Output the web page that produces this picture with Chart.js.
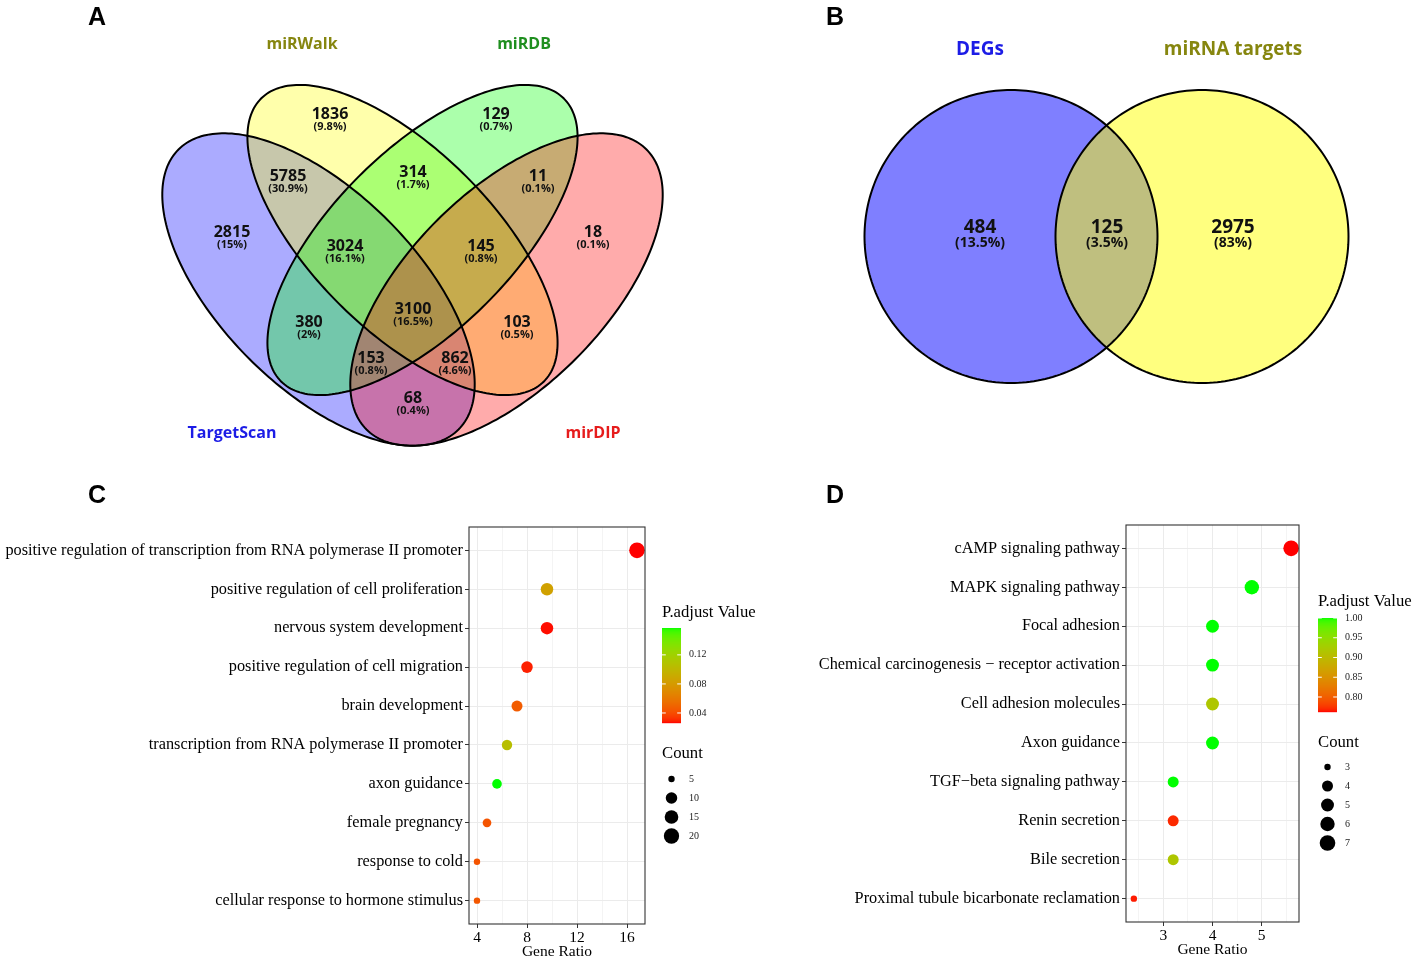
<!DOCTYPE html>
<html>
<head>
<meta charset="utf-8">
<script src="https://cdn.jsdelivr.net/npm/chart.js@4.4.1/dist/chart.umd.min.js"></script>
<style>
  html, body { margin: 0; padding: 0; background: #fff; }
  #wrap { position: relative; width: 1417px; height: 964px; overflow: hidden; }
  canvas { position: absolute; }
  .tag { position: absolute; font: bold 25px "Liberation Sans", Arial, sans-serif; line-height: 25px; color: #000; }
</style>
</head>
<body>
<div id="wrap">
  <canvas id="vennA" width="708" height="470" style="left:0;top:0"></canvas>
  <canvas id="vennB" width="709" height="470" style="left:708px;top:0"></canvas>
  <canvas id="keggDot" width="709" height="494" style="left:708px;top:470px"></canvas>
  <canvas id="goDot" width="790" height="494" style="left:0;top:470px"></canvas>
  <div class="tag" style="left:88px;top:4px">A</div>
  <div class="tag" style="left:826px;top:4px">B</div>
  <div class="tag" style="left:88px;top:482px">C</div>
  <div class="tag" style="left:826px;top:482px">D</div>
</div>
<script>
// ---- data ----
const vennASets = ['TargetScan', 'miRWalk', 'miRDB', 'mirDIP'];
const vennACounts = [1836, 129, 5785, 314, 11, 2815, 3024, 145, 18, 380, 3100, 103, 153, 862, 68];
const vennAPercents = ['9.8%', '0.7%', '30.9%', '1.7%', '0.1%', '15%', '16.1%', '0.8%', '0.1%', '2%', '16.5%', '0.5%', '0.8%', '4.6%', '0.4%'];

const vennBSets = ['DEGs', 'miRNA targets'];
const vennBCounts = [484, 125, 2975];
const vennBPercents = ['13.5%', '3.5%', '83%'];

const goTerms = [
  'positive regulation of transcription from RNA polymerase II promoter',
  'positive regulation of cell proliferation',
  'nervous system development',
  'positive regulation of cell migration',
  'brain development',
  'transcription from RNA polymerase II promoter',
  'axon guidance',
  'female pregnancy',
  'response to cold',
  'cellular response to hormone stimulus'
];
const goRatio = [16.8, 9.6, 9.6, 8.0, 7.2, 6.4, 5.6, 4.8, 4.0, 4.0];
const goCount = [21, 12, 12, 10, 9, 8, 7, 6, 5, 5];
const goPadj = [0.0262, 0.085, 0.027, 0.029, 0.046, 0.105, 0.157, 0.043, 0.043, 0.044];
const goXMajor = [4, 8, 12, 16];
const goXMinor = [6, 10, 14];
const goBarTicks = [0.04, 0.08, 0.12];
const goSizeBreaks = [5, 10, 15, 20];

const keggTerms = [
  'cAMP signaling pathway',
  'MAPK signaling pathway',
  'Focal adhesion',
  'Chemical carcinogenesis \u2212 receptor activation',
  'Cell adhesion molecules',
  'Axon guidance',
  'TGF\u2212beta signaling pathway',
  'Renin secretion',
  'Bile secretion',
  'Proximal tubule bicarbonate reclamation'
];
const keggRatio = [5.6, 4.8, 4.0, 4.0, 4.0, 4.0, 3.2, 3.2, 3.2, 2.4];
const keggCount = [7, 6, 5, 5, 5, 5, 4, 4, 4, 3];
const keggPadj = [0.762, 1.0, 1.0, 1.0, 0.917, 1.0, 1.0, 0.770, 0.917, 0.766];
const keggXMajor = [3, 4, 5];
const keggXMinor = [2.5, 3.5, 4.5, 5.5];
const keggBarTicks = [0.80, 0.85, 0.90, 0.95, 1.00];
const keggSizeBreaks = [3, 4, 5, 6, 7];

// ---- layout (page pixels) ----
const vennAShapes = [
  { cx: 318.5, cy: 289.5, rx: 198, ry: 98, angle: 45, fill: 'rgba(0,0,255,0.33)' },
  { cx: 402.5, cy: 240, rx: 200, ry: 90, angle: 45, fill: 'rgba(255,255,0,0.33)' },
  { cx: 422.5, cy: 240, rx: 200, ry: 90, angle: -45, fill: 'rgba(0,255,0,0.33)' },
  { cx: 506.5, cy: 289.5, rx: 198, ry: 98, angle: -45, fill: 'rgba(255,0,0,0.33)' }
];
const vennALabelPos = [[330, 114], [496, 114], [288, 176], [413, 172], [538, 176], [232, 232], [345, 246],
  [481, 246], [593, 232], [309, 322], [413, 309], [517, 322], [371, 358], [455, 358], [413, 398]];
const vennASetPos = [[232, 433], [302, 44], [524, 44], [593, 433]];
const vennASetColors = ['#1c1ce6', '#86860f', '#1f8f1f', '#e61c1c'];

const vennBShapes = [
  { cx: 1011, cy: 236.5, rx: 146.5, ry: 146.5, angle: 0, fill: 'rgba(0,0,255,0.5)' },
  { cx: 1202, cy: 236.5, rx: 146.5, ry: 146.5, angle: 0, fill: 'rgba(255,255,0,0.5)' }
];
const vennBLabelPos = [[980, 228], [1107, 228], [1233, 228]];
const vennBSetPos = [[980, 50], [1233, 50]];
const vennBSetColors = ['#1c1ce6', '#86860f'];

const SANS = '"Open Sans", "Noto Sans", sans-serif';
const SERIF = '"Liberation Serif", "Times New Roman", serif';
Chart.defaults.font.family = SERIF;

// ---- colour scale: red -> green, interpolated in Lab like ggplot ----
const WHITE = [0.95047, 1, 1.08883];
function lin(c) { c /= 255; return c <= 0.04045 ? c / 12.92 : Math.pow((c + 0.055) / 1.055, 2.4); }
function unlin(c) {
  c = c <= 0.0031308 ? 12.92 * c : 1.055 * Math.pow(Math.max(c, 0), 1 / 2.4) - 0.055;
  return Math.round(Math.max(0, Math.min(1, c)) * 255);
}
function toLab(rgb) {
  const [r, g, b] = rgb.map(lin);
  const xyz = [0.4124 * r + 0.3576 * g + 0.1805 * b, 0.2126 * r + 0.7152 * g + 0.0722 * b, 0.0193 * r + 0.1192 * g + 0.9505 * b];
  const f = xyz.map((v, i) => { v /= WHITE[i]; return v > 0.008856 ? Math.cbrt(v) : 7.787 * v + 16 / 116; });
  return [116 * f[1] - 16, 500 * (f[0] - f[1]), 200 * (f[1] - f[2])];
}
function fromLab([L, A, B]) {
  const fy = (L + 16) / 116, fx = fy + A / 500, fz = fy - B / 200;
  const inv = t => t > 0.206893 ? t * t * t : (t - 16 / 116) / 7.787;
  const X = inv(fx) * WHITE[0], Y = inv(fy) * WHITE[1], Z = inv(fz) * WHITE[2];
  return [unlin(3.2406 * X - 1.5372 * Y - 0.4986 * Z), unlin(-0.9689 * X + 1.8758 * Y + 0.0415 * Z), unlin(0.0557 * X - 0.2040 * Y + 1.0570 * Z)];
}
const LAB_LOW = toLab([255, 0, 0]);
const LAB_HIGH = toLab([0, 255, 0]);
function gradient(t) {
  t = Math.max(0, Math.min(1, t));
  return 'rgb(' + fromLab(LAB_LOW.map((v, i) => v + (LAB_HIGH[i] - v) * t)).join(',') + ')';
}

// ---- venn diagrams ----
function ellipsePath(ctx, xs, ys, e) {
  const a = e.angle * Math.PI / 180;
  ctx.beginPath();
  for (let i = 0; i <= 240; i++) {
    const t = i / 240 * 2 * Math.PI;
    const x = e.cx + e.rx * Math.cos(t) * Math.cos(a) - e.ry * Math.sin(t) * Math.sin(a);
    const y = e.cy + e.rx * Math.cos(t) * Math.sin(a) + e.ry * Math.sin(t) * Math.cos(a);
    const px = xs.getPixelForValue(x), py = ys.getPixelForValue(y);
    if (i) ctx.lineTo(px, py); else ctx.moveTo(px, py);
  }
  ctx.closePath();
}

function makeVenn(id, xMin, o) {
  const plugin = {
    id: 'vennShapes',
    beforeDatasetsDraw(chart) {
      const { ctx, scales: { x, y } } = chart;
      ctx.save();
      o.shapes.forEach(s => { ellipsePath(ctx, x, y, s); ctx.fillStyle = s.fill; ctx.fill(); });
      ctx.lineWidth = 2;
      ctx.strokeStyle = '#000';
      o.shapes.forEach(s => { ellipsePath(ctx, x, y, s); ctx.stroke(); });
      ctx.restore();
    },
    afterDatasetsDraw(chart) {
      const ctx = chart.ctx;
      ctx.save();
      ctx.textAlign = 'center';
      ctx.textBaseline = 'middle';
      chart.getDatasetMeta(0).data.forEach((pt, i) => {
        ctx.fillStyle = '#111';
        ctx.font = 'bold ' + o.fonts.num + 'px ' + SANS;
        ctx.fillText(String(o.counts[i]), pt.x, pt.y);
        ctx.font = 'bold ' + o.fonts.pct + 'px ' + SANS;
        ctx.fillText('(' + o.pcts[i] + ')', pt.x, pt.y + o.fonts.gap);
      });
      chart.getDatasetMeta(1).data.forEach((pt, i) => {
        ctx.fillStyle = o.setColors[i];
        ctx.font = 'bold ' + o.fonts.set + 'px ' + SANS;
        ctx.fillText(o.sets[i], pt.x, pt.y);
      });
      ctx.restore();
    }
  };
  const el = document.getElementById(id);
  return new Chart(el, {
    type: 'scatter',
    data: {
      datasets: [
        { data: o.labelPos.map(([x, y]) => ({ x, y })), pointRadius: 0 },
        { data: o.setPos.map(([x, y]) => ({ x, y })), pointRadius: 0 }
      ]
    },
    options: {
      responsive: false,
      animation: false,
      events: [],
      layout: { padding: 0 },
      scales: {
        x: { type: 'linear', display: false, min: xMin, max: xMin + el.width },
        y: { type: 'linear', display: false, min: 0, max: el.height, reverse: true }
      },
      plugins: { legend: { display: false }, tooltip: { enabled: false } }
    },
    plugins: [plugin]
  });
}

makeVenn('vennA', 0, {
  shapes: vennAShapes, labelPos: vennALabelPos, counts: vennACounts, pcts: vennAPercents,
  setPos: vennASetPos, sets: vennASets, setColors: vennASetColors,
  fonts: { num: 16, pct: 11, gap: 13, set: 16 }
});
makeVenn('vennB', 708, {
  shapes: vennBShapes, labelPos: vennBLabelPos, counts: vennBCounts, pcts: vennBPercents,
  setPos: vennBSetPos, sets: vennBSets, setColors: vennBSetColors,
  fonts: { num: 19, pct: 14, gap: 15, set: 19 }
});

// ---- dot plots ----
const R_MIN = 3.2, R_MAX = 7.8;
const LABEL_PX = 16.3, TITLE_PX = 16.7;

function makeDot(id, o) {
  const pMin = Math.min(...o.padj), pMax = Math.max(...o.padj);
  const cMin = Math.min(...o.count), cMax = Math.max(...o.count);
  const colorOf = p => gradient((p - pMin) / (pMax - pMin));
  const radiusOf = c => R_MIN + (R_MAX - R_MIN) * Math.sqrt(Math.max(0, c - cMin) / (cMax - cMin));
  const isMajor = v => o.xMajor.includes(v);

  const legendPlugin = {
    id: 'ggLegend',
    afterDatasetsDraw(chart) {
      const { ctx, chartArea: a } = chart;
      const L = o.legend;
      const bx = a.right + L.dx;
      ctx.save();
      ctx.strokeStyle = '#333';
      ctx.lineWidth = 1.1;
      ctx.strokeRect(a.left, a.top, a.right - a.left, a.bottom - a.top);

      ctx.textAlign = 'left';
      ctx.textBaseline = 'middle';
      ctx.fillStyle = '#000';
      ctx.font = TITLE_PX + 'px ' + SERIF;
      ctx.fillText('P.adjust Value', bx, L.titleY);
      for (let i = 0; i < L.barH; i++) {
        ctx.fillStyle = gradient(1 - (i + 0.5) / L.barH);
        ctx.fillRect(bx, L.barTop + i, L.barW, 1.2);
      }
      ctx.font = '10px ' + SERIF;
      o.barTicks.forEach(v => {
        const ty = L.barTop + (1 - (v - pMin) / (pMax - pMin)) * L.barH;
        ctx.strokeStyle = '#fff';
        ctx.lineWidth = 1;
        ctx.beginPath();
        ctx.moveTo(bx, ty); ctx.lineTo(bx + L.barW / 5, ty);
        ctx.moveTo(bx + L.barW * 4 / 5, ty); ctx.lineTo(bx + L.barW, ty);
        ctx.stroke();
        ctx.fillStyle = '#222';
        ctx.fillText(v.toFixed(2), bx + 27, ty);
      });

      ctx.fillStyle = '#000';
      ctx.font = TITLE_PX + 'px ' + SERIF;
      ctx.fillText('Count', bx, L.countY);
      ctx.font = '10px ' + SERIF;
      o.sizeBreaks.forEach((c, i) => {
        const cy = L.dotTop + i * 19;
        ctx.fillStyle = '#000';
        ctx.beginPath();
        ctx.arc(bx + 9.5, cy, radiusOf(c), 0, Math.PI * 2);
        ctx.fill();
        ctx.fillStyle = '#222';
        ctx.fillText(String(c), bx + 27, cy);
      });
      ctx.restore();
    }
  };

  return new Chart(document.getElementById(id), {
    type: 'scatter',
    data: {
      datasets: [{
        data: o.ratio.map((r, i) => ({ x: r, y: i })),
        pointRadius: c => radiusOf(o.count[c.dataIndex]),
        pointHoverRadius: c => radiusOf(o.count[c.dataIndex]),
        pointBackgroundColor: c => colorOf(o.padj[c.dataIndex]),
        pointBorderWidth: 0,
        clip: false
      }]
    },
    options: {
      responsive: false,
      animation: false,
      events: [],
      layout: { padding: { left: 0, top: o.pad.top, right: o.pad.right, bottom: 0 } },
      scales: {
        x: {
          type: 'linear', min: o.xMin, max: o.xMax,
          afterBuildTicks: s => { s.ticks = [...o.xMajor, ...o.xMinor].sort((a, b) => a - b).map(v => ({ value: v })); },
          afterFit: s => { s.height = o.xAxisH; },
          ticks: {
            callback: v => isMajor(v) ? String(v) : '',
            font: { family: SERIF, size: 15.5 }, color: '#000', padding: 1, maxRotation: 0, autoSkip: false
          },
          grid: {
            color: c => isMajor(c.tick.value) ? '#ebebeb' : '#f4f4f4',
            lineWidth: 1,
            tickColor: c => isMajor(c.tick.value) ? '#333' : 'rgba(0,0,0,0)',
            tickLength: 4, tickWidth: 1
          },
          border: { display: false },
          title: { display: true, text: 'Gene Ratio', color: '#000', font: { family: SERIF, size: 15.5 }, padding: { top: 0, bottom: o.titlePad } }
        },
        y: {
          type: 'linear', min: -0.6, max: o.terms.length - 0.4, reverse: true,
          afterBuildTicks: s => { s.ticks = o.terms.map((t, i) => ({ value: i })); },
          afterFit: s => { s.width = o.yAxisW; },
          ticks: {
            callback: v => o.terms[v],
            font: { family: SERIF, size: LABEL_PX }, color: '#000', padding: 2, autoSkip: false
          },
          grid: { color: '#ebebeb', lineWidth: 1, tickColor: '#333', tickLength: 4, tickWidth: 1 },
          border: { display: false }
        }
      },
      plugins: { legend: { display: false }, tooltip: { enabled: false } }
    },
    plugins: [legendPlugin]
  });
}

makeDot('goDot', {
  terms: goTerms, ratio: goRatio, count: goCount, padj: goPadj,
  xMin: 3.36, xMax: 17.44, xMajor: goXMajor, xMinor: goXMinor,
  barTicks: goBarTicks, sizeBreaks: goSizeBreaks,
  pad: { top: 57, right: 145 }, yAxisW: 469, xAxisH: 40, titlePad: 3,
  legend: { dx: 17, titleY: 143, barTop: 158, barH: 95, barW: 19, countY: 284, dotTop: 309 }
});
makeDot('keggDot', {
  terms: keggTerms, ratio: keggRatio, count: keggCount, padj: keggPadj,
  xMin: 2.24, xMax: 5.76, xMajor: keggXMajor, xMinor: keggXMinor,
  barTicks: keggBarTicks, sizeBreaks: keggSizeBreaks,
  pad: { top: 55, right: 118 }, yAxisW: 418, xAxisH: 42, titlePad: 5,
  legend: { dx: 19, titleY: 132, barTop: 148, barH: 94, barW: 19, countY: 273, dotTop: 297 }
});
</script>
</body>
</html>
